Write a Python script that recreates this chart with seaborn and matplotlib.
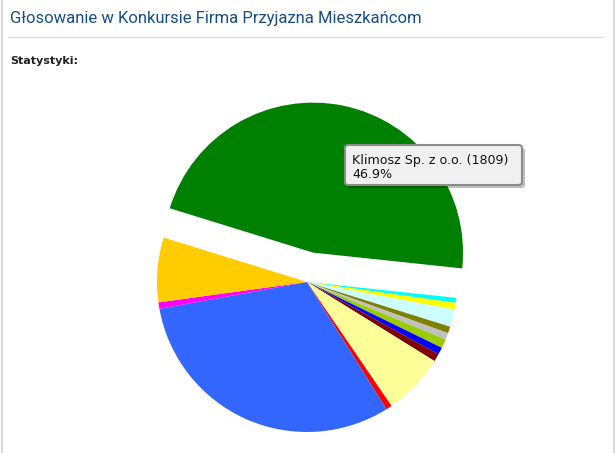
import matplotlib
matplotlib.use("Agg")
import matplotlib.pyplot as plt
import seaborn as sns
from matplotlib.patches import FancyBboxPatch

sns.set_theme(style="white")
plt.rcParams["font.family"] = ["DejaVu Sans"]

# glosy na firmy (tylko pierwsza nazwa widoczna na wykresie)
firmy = ["Klimosz Sp. z o.o.", "Firma 2", "Firma 3", "Firma 4", "Firma 5", "Firma 6", "Firma 7",
         "Firma 8", "Firma 9", "Firma 10", "Firma 11", "Firma 12", "Firma 13", "Firma 14"]
glosy = [1809, 21, 28, 72, 28, 28, 37, 30, 32, 256, 25, 1196, 27, 268]
kolory = ["#008000", "#00ffff", "#ffff00", "#ccffff", "#808000", "#c0c0c0", "#99cc00",
          "#0000ff", "#800000", "#ffff99", "#ff0000", "#3366ff", "#ff00ff", "#ffcc00"]

W, H = 615, 453
fig = plt.figure(figsize=(W / 100, H / 100), dpi=100)

# ramka strony, tytul i linia
fig.add_artist(plt.Line2D([1.5 / W, 1.5 / W], [0, 1], color="#d9d9d9", lw=1.5))
fig.add_artist(plt.Line2D([613.5 / W, 613.5 / W], [0, 1], color="#d9d9d9", lw=1.5))
fig.add_artist(plt.Line2D([8 / W, 604 / W], [1 - 37 / H, 1 - 37 / H], color="#dcdcdc", lw=1))
fig.text(10 / W, 1 - 22.5 / H, "Głosowanie w Konkursie Firma Przyjazna Mieszkańcom",
         fontsize=11.95, color="#174e8a", va="baseline", ha="left", family=["Roboto"])
fig.text(10 / W, 1 - 64 / H, "Statystyki:", fontsize=8, fontweight="bold",
         color="#222222", va="baseline", ha="left")

# wykres kolowy: srodek (307, 282) px, promien 150 px
cx, cy, r = 307, 282, 150
size = 400
ax = fig.add_axes([(cx - size / 2) / W, 1 - (cy + size / 2) / H, size / W, size / H])
explode = [0.2] + [0] * (len(glosy) - 1)
ax.pie(glosy, colors=kolory, startangle=162.8, counterclock=False, explode=explode,
       radius=1, wedgeprops=dict(linewidth=0))
lim = size / 2 / r
ax.set_xlim(-lim, lim)
ax.set_ylim(-lim, lim)
ax.set_aspect("equal")
ax.axis("off")

# dymek z podpowiedzia
procent = glosy[0] / sum(glosy) * 100
bx0, by0, bx1, by1 = 345, 145, 522, 185
shadow = FancyBboxPatch(((bx0 + 3) / W, 1 - (by1 + 3) / H), (bx1 - bx0) / W, (by1 - by0) / H,
                        boxstyle="round,pad=0,rounding_size=0.006", transform=fig.transFigure,
                        facecolor="#000000", alpha=0.25, edgecolor="none")
box = FancyBboxPatch((bx0 / W, 1 - by1 / H), (bx1 - bx0) / W, (by1 - by0) / H,
                     boxstyle="round,pad=0,rounding_size=0.006", transform=fig.transFigure,
                     facecolor="#f0f0f0", edgecolor="#8c8c8c", linewidth=1.5)
fig.add_artist(shadow)
fig.add_artist(box)
fig.text(352 / W, 1 - 177.5 / H, f"{firmy[0]} ({glosy[0]})\n{procent:.1f}%",
         fontsize=9.05, color="#111111", va="baseline", ha="left", linespacing=1.08)

fig.savefig("out.png", dpi=100)
